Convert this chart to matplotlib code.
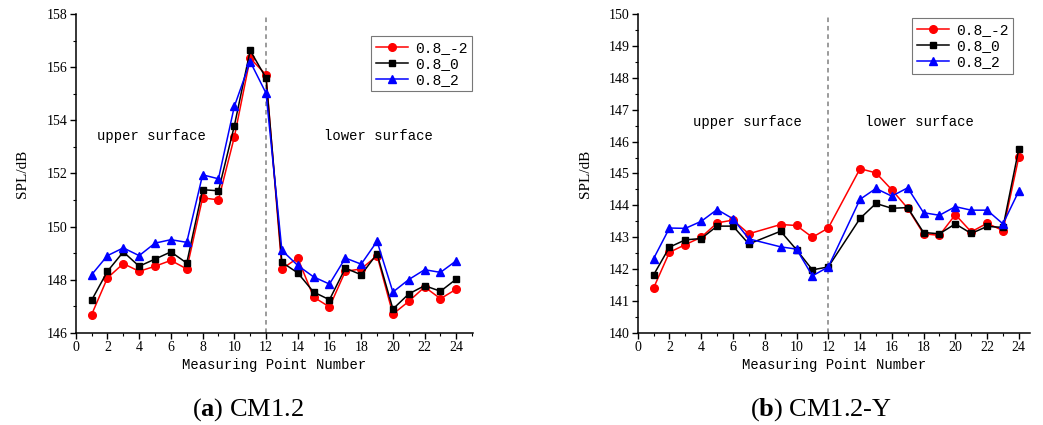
import matplotlib
matplotlib.use("Agg")
import matplotlib.pyplot as plt
from matplotlib.ticker import MultipleLocator

plt.rcParams["mathtext.fontset"] = "custom"
plt.rcParams["mathtext.rm"] = "Liberation Serif"
plt.rcParams["mathtext.bf"] = "Liberation Serif:bold"

# panel (a) CM1.2 -- measuring points 1..24
pts_a = list(range(1, 25))
a_m2 = [146.69, 148.07, 148.61, 148.32, 148.51, 148.73, 148.41, 151.08, 151.01, 153.37, 156.34, 155.71,
        148.41, 148.82, 147.35, 146.98, 148.32, 148.41, 148.91, 146.71, 147.19, 147.73, 147.29, 147.65]
a_0 = [147.23, 148.32, 149.05, 148.51, 148.78, 149.05, 148.63, 151.39, 151.35, 153.79, 156.63, 155.59,
       148.66, 148.26, 147.54, 147.25, 148.44, 148.19, 148.98, 146.90, 147.47, 147.78, 147.57, 148.03]
a_p2 = [148.19, 148.91, 149.20, 148.91, 149.38, 149.51, 149.41, 151.95, 151.80, 154.52, 156.21, 155.02,
        149.11, 148.54, 148.11, 147.84, 148.82, 148.59, 149.45, 147.54, 148.01, 148.38, 148.28, 148.72]

# panel (b) CM1.2-Y -- points 8 and 13 not measured
pts_b = [1, 2, 3, 4, 5, 6, 7, 9, 10, 11, 12, 14, 15, 16, 17, 18, 19, 20, 21, 22, 23, 24]
b_m2 = [141.41, 142.53, 142.77, 143.00, 143.45, 143.54, 143.11, 143.40, 143.37, 143.00, 143.29,
        145.15, 145.02, 144.49, 143.91, 143.11, 143.06, 143.71, 143.17, 143.44, 143.21, 145.52]
b_0 = [141.82, 142.69, 142.92, 142.96, 143.35, 143.35, 142.79, 143.19, 142.61, 141.98, 142.07,
       143.59, 144.06, 143.91, 143.93, 143.15, 143.11, 143.42, 143.12, 143.34, 143.31, 145.78]
b_p2 = [142.33, 143.29, 143.28, 143.50, 143.87, 143.58, 142.95, 142.70, 142.63, 141.79, 142.07,
        144.19, 144.53, 144.29, 144.55, 143.77, 143.69, 143.96, 143.85, 143.85, 143.42, 144.45]

labels = ["0.8_-2", "0.8_0", "0.8_2"]
styles = [("red", "o", 5.5), ("black", "s", 5), ("blue", "^", 6)]

SERIF = "Liberation Serif"
MONO = "Liberation Mono"

fig = plt.figure(figsize=(10.43, 4.25), dpi=100)
ax_a = fig.add_axes([0.0726, 0.2165, 0.3806, 0.7506])
ax_b = fig.add_axes([0.6114, 0.2165, 0.3761, 0.7506])


def draw(ax, xs, series, ylim, ymajor, yminor, xmax, txt_y, up_x, low_x, leg_anchor):
    for ys, lab, (c, m, ms) in zip(series, labels, styles):
        ax.plot(xs, ys, color=c, marker=m, markersize=ms, linewidth=1.1, label=lab)
    ax.axvline(12, color="gray", linestyle=(0, (3, 2.5)), linewidth=1.1, zorder=0)
    ax.set_xlim(0, xmax)
    ax.set_ylim(*ylim)
    ax.xaxis.set_major_locator(MultipleLocator(2))
    ax.xaxis.set_minor_locator(MultipleLocator(1))
    ax.yaxis.set_major_locator(MultipleLocator(ymajor))
    ax.yaxis.set_minor_locator(MultipleLocator(yminor))
    for s in ("top", "right"):
        ax.spines[s].set_visible(False)
    for s in ("left", "bottom"):
        ax.spines[s].set_linewidth(1.1)
    ax.tick_params(which="major", direction="out", length=4, width=1, labelsize=10, pad=2)
    ax.tick_params(which="minor", direction="out", length=2, width=0.8)
    for t in ax.get_xticklabels() + ax.get_yticklabels():
        t.set_fontfamily(SERIF)
    ax.text(up_x, txt_y, "upper surface", fontfamily=MONO, fontsize=10, ha="center", va="center")
    ax.text(low_x, txt_y, "lower surface", fontfamily=MONO, fontsize=10, ha="center", va="center")
    ax.set_xlabel("Measuring Point Number", fontfamily=MONO, fontsize=10, labelpad=3)
    ax.set_ylabel("SPL/dB", fontfamily=SERIF, fontsize=11)
    ax.yaxis.set_label_coords(-0.117, 0.5)
    leg = ax.legend(loc="upper left", bbox_to_anchor=leg_anchor, prop={"family": MONO, "size": 10.5},
                    frameon=True, fancybox=False, handlelength=2.2, borderpad=0.3,
                    labelspacing=0.15, handletextpad=0.5, borderaxespad=0)
    leg.get_frame().set_edgecolor("#555555")
    leg.get_frame().set_linewidth(0.8)


draw(ax_a, pts_a, [a_m2, a_0, a_p2], (146, 158), 2, 1, 25.03, 153.4, 4.8, 19.1, (0.745, 0.93))
draw(ax_b, pts_b, [b_m2, b_0, b_p2], (140, 150), 1, 0.5, 24.7, 146.6, 6.9, 17.75, (0.70, 0.986))

fig.text(0.238, 0.037, r"($\mathbf{a}$) CM1.2", fontfamily=SERIF, fontsize=19, ha="center", va="center")
fig.text(0.787, 0.037, r"($\mathbf{b}$) CM1.2-Y", fontfamily=SERIF, fontsize=19, ha="center", va="center")

fig.savefig("out.png", dpi=100)
